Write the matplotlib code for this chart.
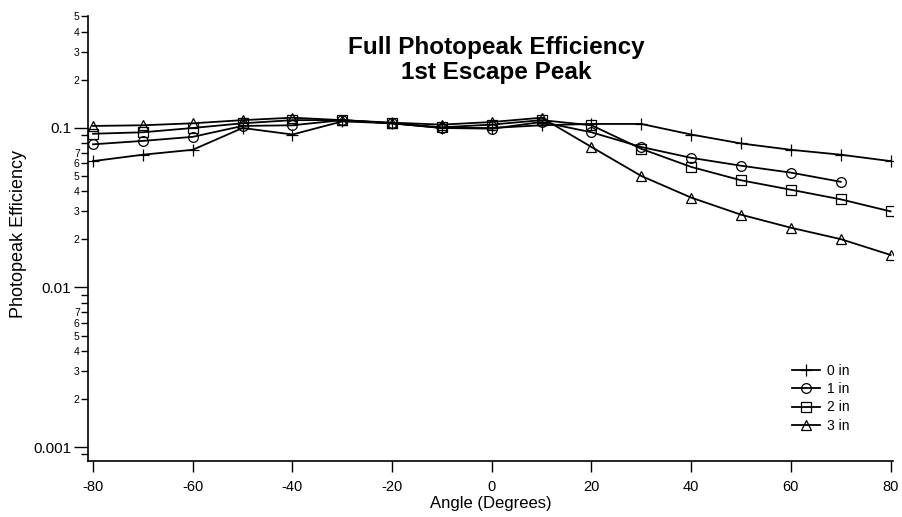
import numpy as np
import matplotlib
matplotlib.use('Agg')
import matplotlib.pyplot as plt
from matplotlib.ticker import LogLocator, FuncFormatter, FixedLocator

plt.rcParams['font.family'] = ['Liberation Sans', 'DejaVu Sans']
plt.rcParams['axes.unicode_minus'] = False

## == data: photopeak efficiency of the 1st escape peak vs. angle ==
angles = np.arange(-80, 81, 10)
angles_1in = np.arange(-80, 71, 10)   # 1 in run stops at 70 deg
eff_0in = [0.062, 0.068, 0.073, 0.100, 0.091, 0.110, 0.107, 0.100, 0.100,
           0.104, 0.106, 0.106, 0.091, 0.080, 0.073, 0.068, 0.062]
eff_1in = [0.079, 0.083, 0.088, 0.103, 0.104, 0.112, 0.107, 0.100, 0.099,
           0.109, 0.094, 0.076, 0.065, 0.058, 0.0525, 0.046]
eff_2in = [0.092, 0.094, 0.100, 0.107, 0.112, 0.112, 0.107, 0.101, 0.105,
           0.112, 0.104, 0.074, 0.057, 0.047, 0.041, 0.0357, 0.030]
eff_3in = [0.103, 0.104, 0.107, 0.112, 0.116, 0.112, 0.108, 0.105, 0.109,
           0.116, 0.076, 0.050, 0.0366, 0.0286, 0.0237, 0.0201, 0.016]
labels = ['0 in', '1 in', '2 in', '3 in']
markers = ['+', 'o', 's', '^']

fig = plt.figure(figsize=(9.02, 5.17), dpi=100)
ax = fig.add_axes([0.0976, 0.1083, 0.8925, 0.8598])

series = [(angles, eff_0in), (angles_1in, eff_1in), (angles, eff_2in), (angles, eff_3in)]
for (xx, yy), lab, mk in zip(series, labels, markers):
    ax.plot(xx, yy, color='black', lw=1.3, marker=mk, ms=9 if mk == '+' else 7,
            mfc='none', mec='black', mew=0.9, label=lab)

ax.set_yscale('log')
ax.set_ylim(0.000817, 0.5)
ax.set_xlim(-81, 80.5)
ax.set_xticks(np.arange(-80, 81, 20))

ax.yaxis.set_major_locator(FixedLocator([0.001, 0.01, 0.1]))
ax.yaxis.set_major_formatter(FuncFormatter(lambda v, p: '%g' % v))
ax.yaxis.set_minor_locator(LogLocator(base=10, subs=np.arange(2, 10)))
def minor_fmt(v, pos):
    m = int(round(v / 10 ** np.floor(np.log10(v) + 1e-9)))
    return str(m) if m <= 7 else ''
ax.yaxis.set_minor_formatter(FuncFormatter(minor_fmt))

ax.tick_params(axis='y', which='major', length=10, width=1, labelsize=11, pad=2)
ax.tick_params(axis='y', which='minor', length=5, width=1, labelsize=7.5, pad=1)
ax.tick_params(axis='x', which='major', length=8, width=1, labelsize=10.5, pad=6)
ax.tick_params(axis='x', which='minor', bottom=False)

for side in ['top', 'right']:
    ax.spines[side].set_visible(False)
for side in ['left', 'bottom']:
    ax.spines[side].set_linewidth(1.2)

ax.set_xlabel('Angle (Degrees)', fontsize=12, labelpad=1)
ax.set_ylabel('Photopeak Efficiency', fontsize=13)
ax.yaxis.set_label_coords(-0.076, 0.51)

fig.text(0.55, 0.884, 'Full Photopeak Efficiency\n1st Escape Peak', ha='center', va='center',
         fontsize=17.5, fontweight='bold', linespacing=1.08)

ax.legend(loc='upper left', bbox_to_anchor=(0.8745, 0.218), frameon=False, fontsize=10,
          handlelength=2.0, handletextpad=0.5, labelspacing=0.3,
          borderaxespad=0, borderpad=0)

fig.savefig('out.png', dpi=100)
